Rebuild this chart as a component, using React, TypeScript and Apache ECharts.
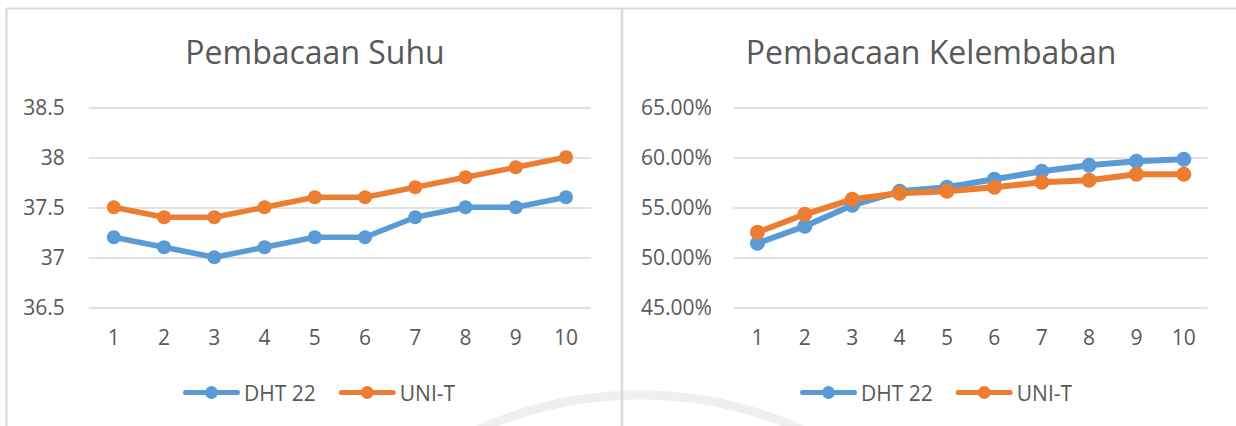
import React, { useEffect, useRef } from "react";
import * as echarts from "echarts";

const categories = ["1", "2", "3", "4", "5", "6", "7", "8", "9", "10"];
const suhuDHT = [37.2, 37.1, 37.0, 37.1, 37.2, 37.2, 37.4, 37.5, 37.5, 37.6];
const suhuUNI = [37.5, 37.4, 37.4, 37.5, 37.6, 37.6, 37.7, 37.8, 37.9, 38.0];
const lembabDHT = [51.4, 53.1, 55.2, 56.6, 57.0, 57.8, 58.6, 59.2, 59.6, 59.8];
const lembabUNI = [52.5, 54.3, 55.8, 56.4, 56.6, 57.0, 57.5, 57.7, 58.3, 58.3];
const seriesNames = ["DHT 22", "UNI-T"];
const titles = ["Pembacaan Suhu", "Pembacaan Kelembaban"];

const BLUE = "#5B9BD5";
const ORANGE = "#ED7D31";
const TXT = "#595959";
const GRID = "#D9D9D9";
const FONT = "'Open Sans', sans-serif";

const LEGEND_ICON =
  "path://M2.5,4 L54.5,4 A2.5,2.5 0 0,1 54.5,9 L2.5,9 A2.5,2.5 0 0,1 2.5,4 Z M22,6.5 A6.5,6.5 0 1,1 35,6.5 A6.5,6.5 0 1,1 22,6.5 Z";

export default function App() {
  const ref = useRef<HTMLDivElement>(null);
  useEffect(() => {
    document.body.style.margin = "0";
    if (!ref.current) return;
    const chart = echarts.init(ref.current, undefined, { renderer: "svg" });

    const mkSeries = (name: string, data: number[], color: string, idx: number, w: number, s: number) => ({
      name,
      type: "line",
      xAxisIndex: idx,
      yAxisIndex: idx,
      data,
      symbol: "circle",
      symbolSize: s,
      showSymbol: true,
      itemStyle: { color },
      lineStyle: { color, width: w },
      emphasis: { disabled: true },
    });

    const axisLabel = { color: TXT, fontSize: 21, fontFamily: FONT };
    const mkLegend = (left: number) => ({
      data: seriesNames.map((n) => ({ name: n, icon: LEGEND_ICON })),
      left,
      top: 382,
      padding: 0,
      itemWidth: 57,
      itemHeight: 13,
      itemGap: 23,
      itemStyle: { borderWidth: 0 },
      textStyle: { color: TXT, fontSize: 21, fontFamily: FONT, padding: [0, 0, 0, -1] },
      selectedMode: false,
    });

    chart.setOption({
      animation: false,
      textStyle: { fontFamily: FONT },
      title: [
        {
          text: titles[0],
          left: 310,
          top: 30,
          textAlign: "center",
          textStyle: { color: TXT, fontSize: 32, fontWeight: "normal", fontFamily: FONT },
        },
        {
          text: titles[1],
          left: 926,
          top: 30,
          textAlign: "center",
          textStyle: { color: TXT, fontSize: 32, fontWeight: "normal", fontFamily: FONT },
        },
      ],
      legend: [mkLegend(183), mkLegend(800)],
      grid: [
        { left: 88.7, right: 1236 - 591.1, top: 107.3, bottom: 426 - 307.3, containLabel: false },
        { left: 733.8, right: 1236 - 1207.5, top: 107.3, bottom: 426 - 307.3, containLabel: false },
      ],
      xAxis: [0, 1].map((i) => ({
        type: "category",
        gridIndex: i,
        data: categories,
        boundaryGap: true,
        axisLine: { show: false },
        axisTick: { show: false },
        axisLabel: { ...axisLabel, margin: 19 },
        splitLine: { show: false },
      })),
      yAxis: [
        {
          type: "value",
          gridIndex: 0,
          min: 36.5,
          max: 38.5,
          interval: 0.5,
          axisLine: { show: false },
          axisTick: { show: false },
          axisLabel: { ...axisLabel, margin: 24 },
          splitLine: { lineStyle: { color: GRID, width: 1.5 } },
        },
        {
          type: "value",
          gridIndex: 1,
          min: 45,
          max: 65,
          interval: 5,
          axisLine: { show: false },
          axisTick: { show: false },
          axisLabel: { ...axisLabel, margin: 22, formatter: (v: number) => v.toFixed(2) + "%" },
          splitLine: { lineStyle: { color: GRID, width: 1.5 } },
        },
      ],
      series: [
        mkSeries(seriesNames[0], suhuDHT, BLUE, 0, 5.5, 14),
        mkSeries(seriesNames[1], suhuUNI, ORANGE, 0, 5.5, 14),
        mkSeries(seriesNames[0], lembabDHT, BLUE, 1, 6, 15),
        mkSeries(seriesNames[1], lembabUNI, ORANGE, 1, 6, 15),
      ],
      graphic: [
        {
          type: "arc",
          silent: true,
          z: -10,
          shape: { cx: 640, cy: 788, r: 393, startAngle: -Math.PI / 2 - 0.45, endAngle: -Math.PI / 2 + 0.45 },
          style: { stroke: "#EFEFEF", lineWidth: 9, fill: "none" },
        },
        {
          type: "line",
          silent: true,
          shape: { x1: 6, y1: 8.5, x2: 1236, y2: 8.5 },
          style: { stroke: GRID, lineWidth: 2 },
        },
        {
          type: "line",
          silent: true,
          shape: { x1: 6.5, y1: 8, x2: 6.5, y2: 426 },
          style: { stroke: GRID, lineWidth: 2 },
        },
        {
          type: "line",
          silent: true,
          shape: { x1: 622, y1: 8, x2: 622, y2: 426 },
          style: { stroke: GRID, lineWidth: 2.5 },
        },
      ],
    });
    return () => chart.dispose();
  }, []);
  return <div ref={ref} style={{ width: 1236, height: 426 }} />;
}
